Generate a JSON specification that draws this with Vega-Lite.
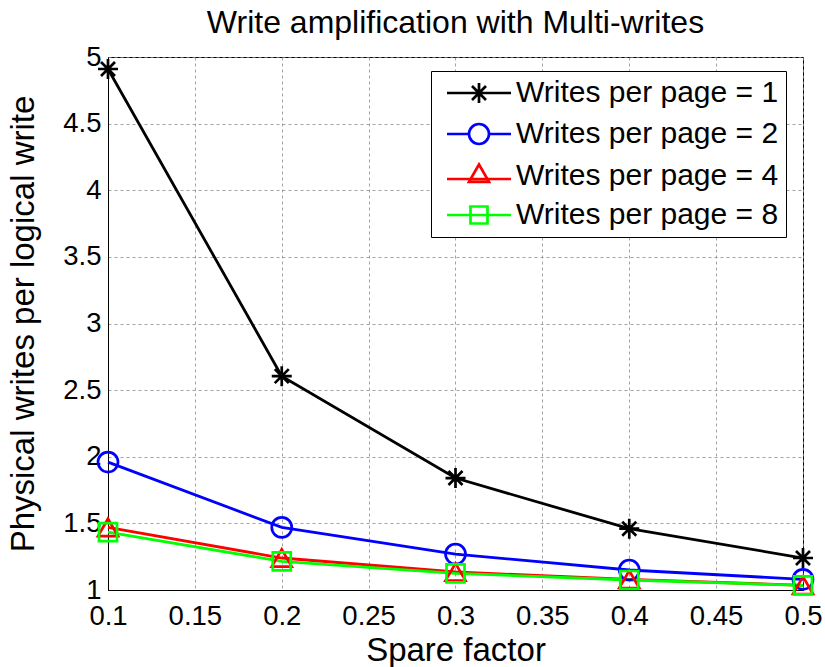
{
  "$schema": "https://vega.github.io/schema/vega-lite/v6.json",
  "width": 695,
  "height": 533,
  "autosize": {"type": "none"},
  "padding": {"left": 108, "top": 57, "right": 22, "bottom": 77},
  "background": "white",
  "title": {
    "text": "Write amplification with Multi-writes",
    "font": "Liberation Sans",
    "fontSize": 32,
    "fontWeight": "normal",
    "color": "black",
    "anchor": "middle",
    "offset": 3
  },
  "config": {
    "view": {"stroke": "black", "strokeWidth": 1},
    "axis": {
      "labelFont": "Liberation Sans",
      "labelFontSize": 27.5,
      "labelColor": "black",
      "labelFlush": false,
      "labelOverlap": false,
      "titleFont": "Liberation Sans",
      "titleFontSize": 33,
      "titleFontWeight": "normal",
      "titleColor": "black",
      "domainColor": "black",
      "domainWidth": 1,
      "ticks": false,
      "gridColor": "#8a8a8a",
      "gridDash": [3, 3],
      "gridWidth": 0.8,
      "gridOpacity": 1
    }
  },
  "data": {
    "values": [
      {"x": 0.1, "y": 4.91, "series": "Writes per page = 1"},
      {"x": 0.2, "y": 2.605, "series": "Writes per page = 1"},
      {"x": 0.3, "y": 1.84, "series": "Writes per page = 1"},
      {"x": 0.4, "y": 1.46, "series": "Writes per page = 1"},
      {"x": 0.5, "y": 1.24, "series": "Writes per page = 1"},
      {"x": 0.1, "y": 1.96, "series": "Writes per page = 2"},
      {"x": 0.2, "y": 1.47, "series": "Writes per page = 2"},
      {"x": 0.3, "y": 1.27, "series": "Writes per page = 2"},
      {"x": 0.4, "y": 1.15, "series": "Writes per page = 2"},
      {"x": 0.5, "y": 1.08, "series": "Writes per page = 2"},
      {"x": 0.1, "y": 1.47, "series": "Writes per page = 4"},
      {"x": 0.2, "y": 1.24, "series": "Writes per page = 4"},
      {"x": 0.3, "y": 1.135, "series": "Writes per page = 4"},
      {"x": 0.4, "y": 1.08, "series": "Writes per page = 4"},
      {"x": 0.5, "y": 1.035, "series": "Writes per page = 4"},
      {"x": 0.1, "y": 1.435, "series": "Writes per page = 8"},
      {"x": 0.2, "y": 1.215, "series": "Writes per page = 8"},
      {"x": 0.3, "y": 1.125, "series": "Writes per page = 8"},
      {"x": 0.4, "y": 1.075, "series": "Writes per page = 8"},
      {"x": 0.5, "y": 1.035, "series": "Writes per page = 8"}
    ]
  },
  "encoding": {
    "x": {
      "field": "x",
      "type": "quantitative",
      "title": "Spare factor",
      "scale": {"domain": [0.1, 0.5], "nice": false, "zero": false},
      "axis": {
        "values": [0.1, 0.15, 0.2, 0.25, 0.3, 0.35, 0.4, 0.45, 0.5],
        "format": ".2~f",
        "labelPadding": 12,
        "titlePadding": 5
      }
    },
    "y": {
      "field": "y",
      "type": "quantitative",
      "title": "Physical writes per logical write",
      "scale": {"domain": [1, 5], "nice": false, "zero": false},
      "axis": {
        "values": [1, 1.5, 2, 2.5, 3, 3.5, 4, 4.5, 5],
        "format": "~g",
        "labelPadding": 7,
        "titlePadding": 22
      }
    },
    "color": {
      "field": "series",
      "type": "nominal",
      "scale": {
        "domain": ["Writes per page = 1", "Writes per page = 2", "Writes per page = 4", "Writes per page = 8"],
        "range": ["#000000", "#0000ff", "#ff0000", "#00ff00"]
      },
      "legend": {
        "title": null,
        "orient": "none",
        "legendX": 323,
        "legendY": 14,
        "padding": 7,
        "strokeColor": "black",
        "fillColor": "white",
        "labelFont": "Liberation Sans",
        "labelFontSize": 30,
        "labelColor": "black",
        "labelOffset": 22,
        "symbolOffset": 26,
        "symbolSize": 400,
        "symbolStrokeWidth": 2.5,
        "rowPadding": 9,
        "labelLimit": 400,
        "encode": {
          "symbols": {
            "update": {
              "shape": {"signal": "datum.value == 'Writes per page = 1' ? 'M-3.2,0L3.2,0M-1,0L1,0M0,-1L0,1M-0.7,-0.7L0.7,0.7M-0.7,0.7L0.7,-0.7' : datum.value == 'Writes per page = 2' ? 'M-3.2,0L-1,0M1,0L3.2,0M-1,0A1,1 0 1,0 1,0A1,1 0 1,0 -1,0' : datum.value == 'Writes per page = 4' ? 'M-3.2,0.3L3.2,0.3M0,-1.15L-1,0.58L1,0.58Z' : 'M-3.2,0L3.2,0M-0.85,-0.85L0.85,-0.85L0.85,0.85L-0.85,0.85Z'"},
              "fill": {"value": "transparent"},
              "strokeWidth": {"value": 2.7}
            }
          }
        }
      }
    }
  },
  "layer": [
    {
      "mark": {"type": "line", "strokeWidth": 2.8}
    },
    {
      "transform": [{"filter": "datum.series == 'Writes per page = 1'"}],
      "mark": {"type": "point", "filled": false, "size": 400, "strokeWidth": 2.7, "opacity": 1, "shape": "M-1,0L1,0M0,-1L0,1M-0.7,-0.7L0.7,0.7M-0.7,0.7L0.7,-0.7"}
    },
    {
      "transform": [{"filter": "datum.series == 'Writes per page = 2'"}],
      "mark": {"type": "point", "filled": false, "size": 400, "strokeWidth": 2.7, "opacity": 1, "shape": "circle"}
    },
    {
      "transform": [{"filter": "datum.series == 'Writes per page = 4'"}],
      "mark": {"type": "point", "filled": false, "size": 400, "strokeWidth": 2.7, "opacity": 1, "shape": "triangle-up"}
    },
    {
      "transform": [{"filter": "datum.series == 'Writes per page = 8'"}],
      "mark": {"type": "point", "filled": false, "size": 400, "strokeWidth": 2.7, "opacity": 1, "shape": "M-0.9,-0.9L0.9,-0.9L0.9,0.9L-0.9,0.9Z"}
    }
  ]
}
